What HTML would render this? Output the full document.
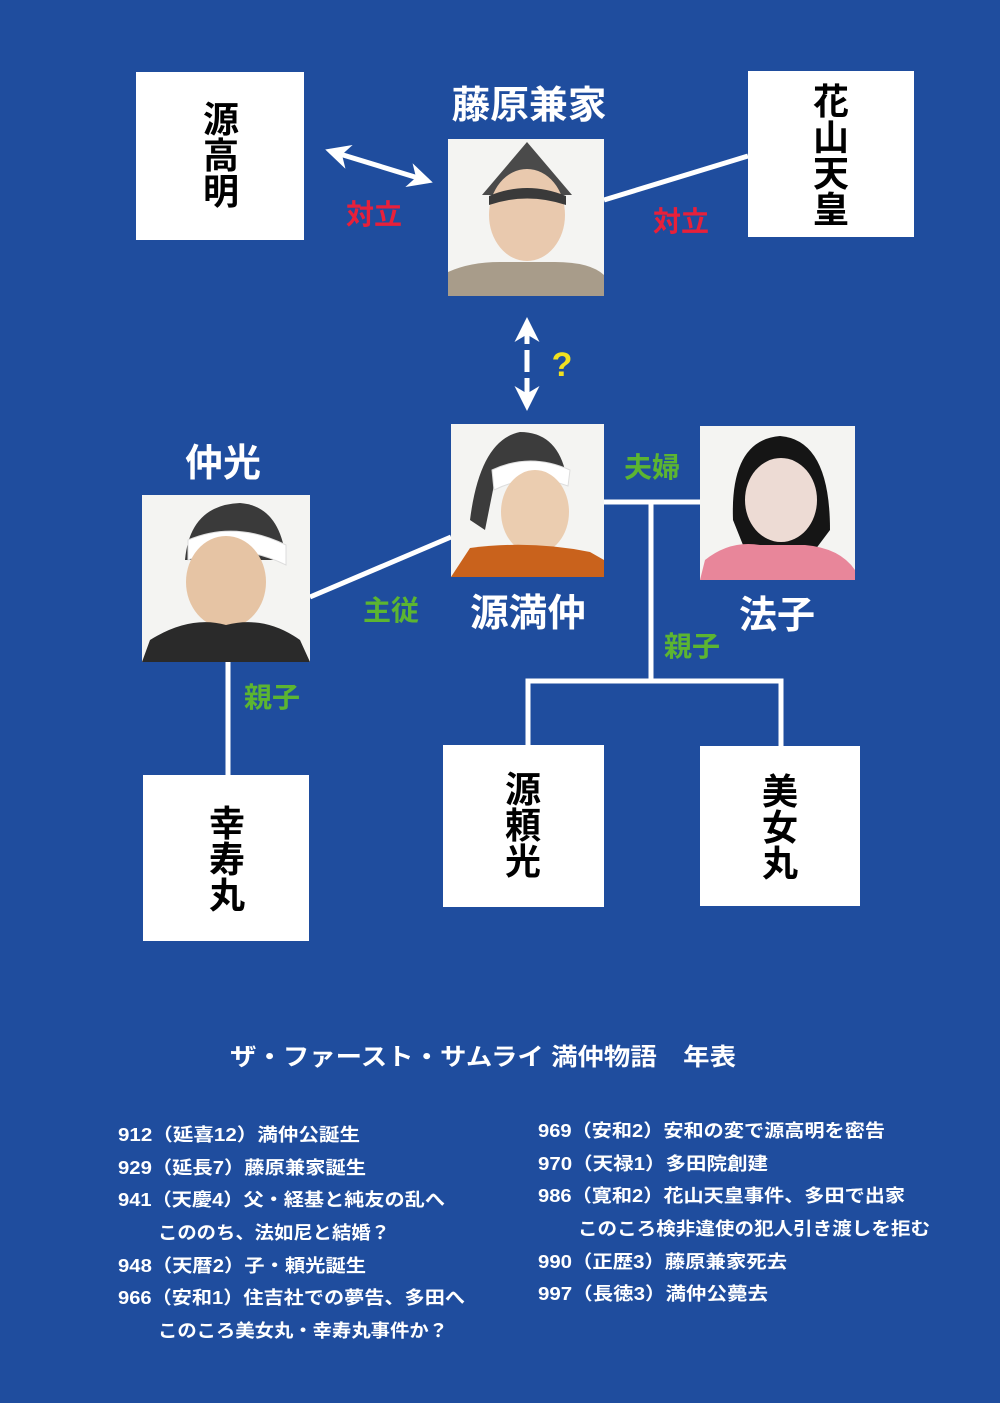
<!DOCTYPE html>
<html><head><meta charset="utf-8"><style>
html,body{margin:0;padding:0;background:#1f4d9e;}
svg{display:block}
text{font-family:"Liberation Sans","Noto Sans CJK JP",sans-serif;font-weight:bold}
</style></head><body>
<svg width="1000" height="1403" viewBox="0 0 1000 1403" xmlns="http://www.w3.org/2000/svg">
<rect width="1000" height="1403" fill="#1f4d9e"/>
<defs>
<marker id="ah" viewBox="0 0 10 10" refX="8" refY="5" markerWidth="5" markerHeight="5" orient="auto-start-reverse"><path d="M0,0 L10,5 L0,10 L3,5z" fill="#fff"/></marker>
</defs>
<g stroke="#fff" stroke-width="5" fill="none">
<line x1="330" y1="151" x2="428" y2="181" marker-start="url(#ah)" marker-end="url(#ah)"/>
<line x1="604" y1="200" x2="748" y2="156"/>
<line x1="527" y1="322" x2="527" y2="406" stroke-dasharray="22,6" marker-start="url(#ah)" marker-end="url(#ah)"/>
<line x1="604" y1="502" x2="700" y2="502"/>
<line x1="651" y1="502" x2="651" y2="681"/>
<polyline points="528,745 528,681 781,681 781,746"/>
<line x1="310" y1="597" x2="451" y2="537"/>
<line x1="228" y1="662" x2="228" y2="775"/>
</g>
<g fill="#fff">
<rect x="136" y="72" width="168" height="168"/>
<rect x="748" y="71" width="166" height="166"/>
<rect x="143" y="775" width="166" height="166"/>
<rect x="443" y="745" width="161" height="162"/>
<rect x="700" y="746" width="160" height="160"/>
</g>
<g font-size="36" fill="#000" text-anchor="middle">
<text x="221" y="132">源</text><text x="221" y="168">高</text><text x="221" y="204">明</text>
<text x="831" y="114">花</text><text x="831" y="150">山</text><text x="831" y="186">天</text><text x="831" y="222">皇</text>
<text x="227" y="836">幸</text><text x="227" y="872">寿</text><text x="227" y="908">丸</text>
<text x="523" y="802">源</text><text x="523" y="838">頼</text><text x="523" y="874">光</text>
<text x="780" y="804">美</text><text x="780" y="840">女</text><text x="780" y="876">丸</text>
</g>
<g>
<rect x="448" y="139" width="156" height="157" fill="#f4f4f2"/>
<path d="M482,195 L527,142 L572,195 Z" fill="#4a4a4a"/>
<ellipse cx="527" cy="215" rx="38" ry="46" fill="#e9c9ae"/>
<path d="M489,196 Q527,180 566,196 L566,205 Q527,192 489,205Z" fill="#3a3a3a"/>
<path d="M448,296 L448,272 Q470,262 500,262 L555,262 Q590,262 604,275 L604,296Z" fill="#a89c8a"/>
<rect x="451" y="424" width="153" height="153" fill="#f4f4f2"/>
<path d="M470,520 Q480,440 520,432 Q555,432 565,470 L495,480 L485,530Z" fill="#3c3c3c"/>
<path d="M492,470 Q530,452 570,470 L568,486 Q530,472 494,490Z" fill="#fff" stroke="#ddd"/>
<ellipse cx="535" cy="512" rx="34" ry="42" fill="#ebcdb0"/>
<path d="M451,577 L470,548 Q530,540 590,552 L604,560 L604,577Z" fill="#c9621c"/>
<rect x="700" y="426" width="155" height="154" fill="#f4f4f2"/>
<path d="M733,520 Q730,440 780,436 Q830,440 830,530 L815,550 L745,550Z" fill="#151515"/>
<ellipse cx="781" cy="500" rx="36" ry="42" fill="#eddbd4"/>
<path d="M700,580 L705,560 Q730,540 760,545 L805,545 Q840,548 855,570 L855,580Z" fill="#e8869a"/>
<rect x="142" y="495" width="168" height="167" fill="#f4f4f2"/>
<path d="M185,560 Q190,505 240,503 Q280,506 286,560Z" fill="#3a3a3a"/>
<path d="M188,540 Q235,520 286,545 L286,565 Q235,540 188,560Z" fill="#fff" stroke="#ddd"/>
<ellipse cx="226" cy="582" rx="40" ry="46" fill="#e6c4a4"/>
<path d="M142,662 L150,640 Q190,615 226,625 Q265,615 300,640 L310,662Z" fill="#2a2a2a"/>
</g>
<g font-size="38" fill="#fff" text-anchor="middle">
<text x="529" y="118" textLength="155" lengthAdjust="spacingAndGlyphs">藤原兼家</text>
<text x="223" y="476">仲光</text>
<text x="528" y="626" textLength="116" lengthAdjust="spacingAndGlyphs">源満仲</text>
<text x="777" y="628">法子</text>
</g>
<g font-size="28" text-anchor="middle">
<text x="374" y="224" fill="#e8203a">対立</text>
<text x="681" y="231" fill="#e8203a">対立</text>
<text x="562" y="376" fill="#f0e020" font-size="34">?</text>
<text x="652" y="477" fill="#5cb531">夫婦</text>
<text x="391" y="620" fill="#5cb531">主従</text>
<text x="692" y="656" fill="#5cb531">親子</text>
<text x="272" y="707" fill="#5cb531">親子</text>
</g>
<text x="483" y="1065" font-size="24" fill="#fff" text-anchor="middle" textLength="506" lengthAdjust="spacingAndGlyphs">ザ・ファースト・サムライ 満仲物語　年表</text>
<g font-size="18" fill="#fff">
<text x="118" y="1141" textLength="242" lengthAdjust="spacingAndGlyphs">912（延喜12）満仲公誕生</text>
<text x="118" y="1174" textLength="248" lengthAdjust="spacingAndGlyphs">929（延長7）藤原兼家誕生</text>
<text x="118" y="1206" textLength="327" lengthAdjust="spacingAndGlyphs">941（天慶4）父・経基と純友の乱へ</text>
<text x="158" y="1239" textLength="232" lengthAdjust="spacingAndGlyphs">こののち、法如尼と結婚？</text>
<text x="118" y="1272" textLength="248" lengthAdjust="spacingAndGlyphs">948（天暦2）子・頼光誕生</text>
<text x="118" y="1304" textLength="347" lengthAdjust="spacingAndGlyphs">966（安和1）住吉社での夢告、多田へ</text>
<text x="158" y="1337" textLength="290" lengthAdjust="spacingAndGlyphs">このころ美女丸・幸寿丸事件か？</text>
<text x="538" y="1137" textLength="347" lengthAdjust="spacingAndGlyphs">969（安和2）安和の変で源高明を密告</text>
<text x="538" y="1170" textLength="230" lengthAdjust="spacingAndGlyphs">970（天禄1）多田院創建</text>
<text x="538" y="1202" textLength="367" lengthAdjust="spacingAndGlyphs">986（寛和2）花山天皇事件、多田で出家</text>
<text x="578" y="1235" textLength="352" lengthAdjust="spacingAndGlyphs">このころ検非違使の犯人引き渡しを拒む</text>
<text x="538" y="1268" textLength="249" lengthAdjust="spacingAndGlyphs">990（正歴3）藤原兼家死去</text>
<text x="538" y="1300" textLength="230" lengthAdjust="spacingAndGlyphs">997（長徳3）満仲公薨去</text>
</g>
</svg>
</body></html>
